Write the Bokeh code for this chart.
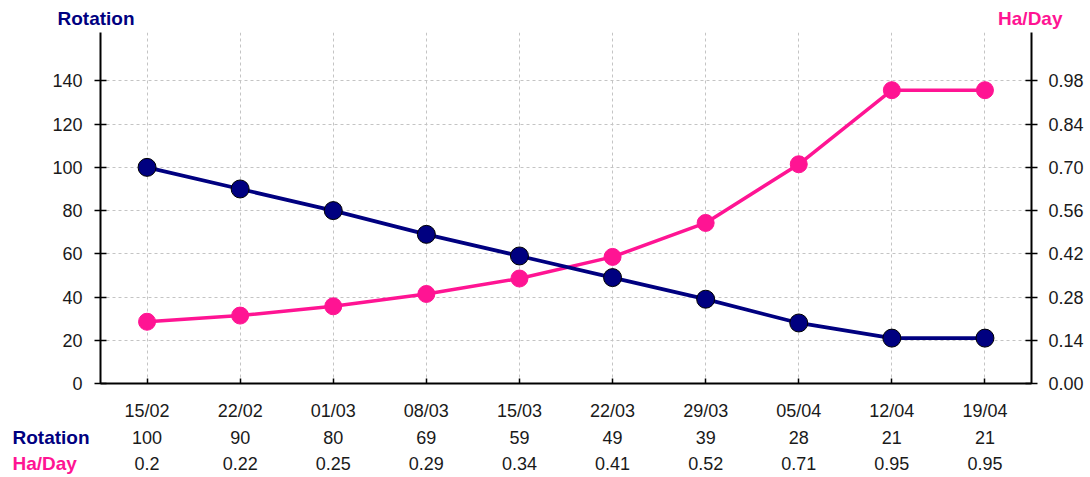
from bokeh.plotting import figure
from bokeh.layouts import column, row
from bokeh.models import (Range1d, LinearAxis, FixedTicker, NumeralTickFormatter,
                          ColumnDataSource, Grid)
from bokeh.core.properties import value
from bokeh.embed import file_html
from bokeh.resources import INLINE

dates = ["15/02", "22/02", "01/03", "08/03", "15/03", "22/03", "29/03", "05/04", "12/04", "19/04"]
rotation = [100, 90, 80, 69, 59, 49, 39, 28, 21, 21]
ha_day = [0.2, 0.22, 0.25, 0.29, 0.34, 0.41, 0.52, 0.71, 0.95, 0.95]
left_ticks = [0, 20, 40, 60, 80, 100, 120, 140]
right_ticks = [0.0, 0.14, 0.28, 0.42, 0.56, 0.70, 0.84, 0.98]

NAVY = "#000080"
PINK = "#FF1493"
FONT = "Liberation Sans"
FS = "18px"
BFS = "19px"
TXT = "#1a1a1a"

W = 1088
BL, BR = 100, 57
idx = list(range(len(dates)))
src = ColumnDataSource(dict(x=idx, rot=rotation, ha=ha_day))

def bare(width, height, x_range, y_range, **kw):
    f = figure(width=width, height=height, output_backend="svg", toolbar_location=None,
               x_range=x_range, y_range=y_range, x_axis_type=None, y_axis_type=None,
               min_border=0, **kw)
    f.outline_line_color = None
    f.background_fill_color = "white"
    f.border_fill_color = "white"
    f.frame_align = False
    return f

# ---------- header with the two axis titles ----------
head = bare(W, 32, Range1d(0, W), Range1d(0, 32))
head.text(x=[57], y=[14], text=["Rotation"], text_font=value(FONT), text_font_size=BFS,
          text_font_style="bold", text_color=NAVY, text_align="left", text_baseline="middle")
head.text(x=[1062], y=[14], text=["Ha/Day"], text_font=value(FONT), text_font_size=BFS,
          text_font_style="bold", text_color=PINK, text_align="right", text_baseline="middle")

# ---------- main chart ----------
ymax = 162.4
xr = Range1d(-0.5, len(dates) - 0.5)
p = figure(width=W, height=392, output_backend="svg", toolbar_location=None,
           x_range=xr, y_range=Range1d(0, ymax),
           min_border_left=BL, min_border_right=BR, min_border_top=0, min_border_bottom=41,
           x_axis_type=None, y_axis_type=None)
p.outline_line_color = None
p.background_fill_color = "white"
p.border_fill_color = "white"
p.extra_y_ranges = {"ha": Range1d(0, ymax * 0.007)}

def style(ax):
    ax.major_label_text_font = FONT
    ax.major_label_text_font_size = FS
    ax.major_label_text_color = TXT
    ax.minor_tick_line_color = None
    ax.axis_line_color = "black"
    ax.axis_line_width = 2
    ax.major_tick_line_color = "black"
    ax.major_tick_line_width = 1.5

yl = LinearAxis(ticker=FixedTicker(ticks=left_ticks))
style(yl)
yl.major_tick_in = 6
yl.major_tick_out = 6
yl.major_label_standoff = 12
p.add_layout(yl, "left")

yr = LinearAxis(y_range_name="ha", ticker=FixedTicker(ticks=right_ticks),
                formatter=NumeralTickFormatter(format="0.00"))
style(yr)
yr.major_tick_in = 6
yr.major_tick_out = 6
yr.major_label_standoff = 11
p.add_layout(yr, "right")

xb = LinearAxis(ticker=FixedTicker(ticks=idx),
                major_label_overrides={i: d for i, d in zip(idx, dates)})
style(xb)
xb.major_tick_in = 5
xb.major_tick_out = 0
xb.major_label_standoff = 17
p.add_layout(xb, "below")

gx = Grid(dimension=0, ticker=FixedTicker(ticks=idx), grid_line_color="#c4c4c4",
          grid_line_dash="3 3", grid_line_width=1)
gy = Grid(dimension=1, ticker=FixedTicker(ticks=left_ticks[1:]), grid_line_color="#c4c4c4",
          grid_line_dash="3 3", grid_line_width=1)
p.add_layout(gx)
p.add_layout(gy)

p.line("x", "ha", source=src, y_range_name="ha", line_color=PINK, line_width=3.5)
p.scatter("x", "ha", source=src, y_range_name="ha", size=17, fill_color=PINK,
          line_color=PINK, line_width=1)
p.line("x", "rot", source=src, line_color=NAVY, line_width=3.8)
p.scatter("x", "rot", source=src, size=18, fill_color=NAVY, line_color="black", line_width=1)

# ---------- data table rows below the chart ----------
FH = 51
ROW_Y = {"rot": 38, "ha": 12}
foot_left = bare(BL, FH, Range1d(0, BL), Range1d(0, FH))
foot_left.text(x=[12, 12], y=[ROW_Y["rot"], ROW_Y["ha"]], text=["Rotation", "Ha/Day"],
               text_font=value(FONT), text_font_size=BFS, text_font_style="bold",
               text_color=[NAVY, PINK], text_align="left", text_baseline="middle")

foot_vals = figure(width=W - BL, height=FH, output_backend="svg", toolbar_location=None,
                   x_range=xr, y_range=Range1d(0, FH), x_axis_type=None, y_axis_type=None,
                   min_border_left=0, min_border_right=BR, min_border_top=0, min_border_bottom=0)
foot_vals.outline_line_color = None
foot_vals.border_fill_color = "white"
tsrc = ColumnDataSource(dict(x=idx, rot=[str(v) for v in rotation], ha=[str(v) for v in ha_day],
                             yr=[ROW_Y["rot"]] * len(idx), yh=[ROW_Y["ha"]] * len(idx)))
foot_vals.text("x", "yr", text="rot", source=tsrc, text_font=value(FONT), text_font_size=FS,
               text_color=TXT, text_align="center", text_baseline="middle")
foot_vals.text("x", "yh", text="ha", source=tsrc, text_font=value(FONT), text_font_size=FS,
               text_color=TXT, text_align="center", text_baseline="middle")

layout = column(head, p, row(foot_left, foot_vals, spacing=0), spacing=0)
open("out.html", "w").write(file_html(layout, INLINE))
